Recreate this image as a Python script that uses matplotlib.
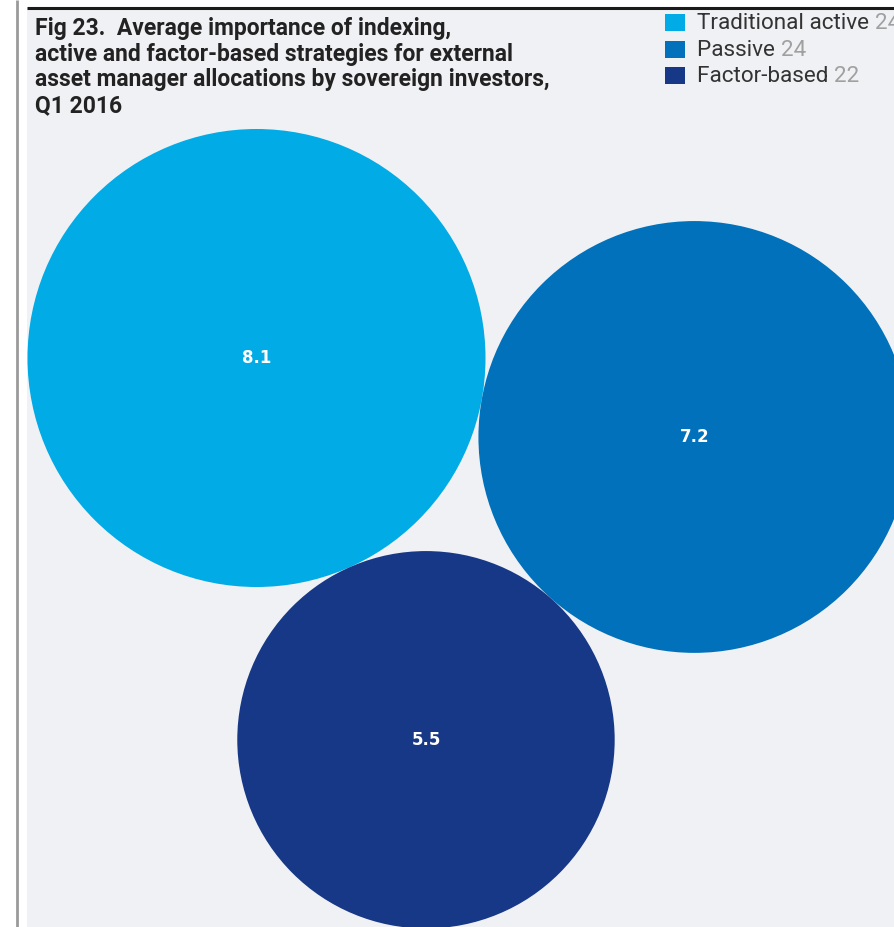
import numpy as np
import matplotlib
matplotlib.use("Agg")
import matplotlib.pyplot as plt
import matplotlib.transforms as mtransforms
from matplotlib.patches import Circle, Rectangle

# Data
categories = ["Traditional active", "Passive", "Factor-based"]
importance = [8.1, 7.2, 5.5]
respondents = [24, 24, 22]
colors = ["#00ABE6", "#0071BA", "#173886"]

title = ("Fig 23.  Average importance of indexing,\n"
         "active and factor-based strategies for external\n"
         "asset manager allocations by sovereign investors,\n"
         "Q1 2016")

W, H = 894, 927
fig = plt.figure(figsize=(W / 100, H / 100), dpi=100)
fig.patch.set_facecolor("white")
ax = fig.add_axes([0, 0, 1, 1])
ax.set_xlim(0, W)
ax.set_ylim(H, 0)
ax.set_aspect("equal")
ax.axis("off")

# Panel and frame lines
ax.add_patch(Rectangle((27, 8), W - 27, H - 8, facecolor="#F0F1F4", edgecolor="none", zorder=0))
ax.plot([27, W], [7.5, 7.5], color="#1a1a1a", lw=2.2, solid_capstyle="butt", zorder=1)
ax.plot([16.5, 16.5], [0, H], color="#9a9a9a", lw=2.0, solid_capstyle="butt", zorder=1)

# Bubble sizes: area proportional to value
scale = 229.0 / np.sqrt(importance[0])
radii = [scale * np.sqrt(v) for v in importance]

# Packed layout: first bubble fixed, second tangent to first, third tangent to both
c1 = np.array([256.5, 358.0])
ang = np.arctan2(79.0, 438.0)
c2 = c1 + (radii[0] + radii[1]) * np.array([np.cos(ang), np.sin(ang)])
d = np.linalg.norm(c2 - c1)
a = radii[0] + radii[2]
b = radii[1] + radii[2]
x = (a ** 2 - b ** 2 + d ** 2) / (2 * d)
h = np.sqrt(max(a ** 2 - x ** 2, 0))
u = (c2 - c1) / d
perp = np.array([-u[1], u[0]])
c3 = c1 + x * u + h * perp
centers = [c1, c2, c3]

for i, (c, r, col, v) in enumerate(zip(centers, radii, colors, importance)):
    ax.add_patch(Circle(c, r, facecolor=col, edgecolor="none", zorder=2 + i))
    ax.text(c[0], c[1], f"{v}", color="white", fontsize=12, fontweight="bold",
            ha="center", va="center", zorder=10)

# Title
ax.text(35, 17, title, fontsize=16.5, fontweight="bold", family="Roboto", color="#222222",
        ha="left", va="top", linespacing=1.15, zorder=10)

# Legend
blend = mtransforms.blended_transform_factory(mtransforms.IdentityTransform(), ax.transData)
fig.canvas.draw()
renderer = fig.canvas.get_renderer()
for i, (cat, n, col) in enumerate(zip(categories, respondents, colors)):
    y = 22.5 + i * 26.5
    ax.add_patch(Rectangle((665, y - 8.5), 20, 17, facecolor=col, edgecolor="none", zorder=10))
    t = ax.text(697, y + 1, cat + " ", fontsize=16.2, color="#333333", ha="left", va="center",
                family="Roboto", zorder=10)
    x_end = t.get_window_extent(renderer).x1
    ax.text(x_end, y + 1, f"{n}", fontsize=16.2, color="#a0a0a0", ha="left", va="center",
            family="Roboto", transform=blend, zorder=10)

fig.savefig("out.png", dpi=100, facecolor="white")
